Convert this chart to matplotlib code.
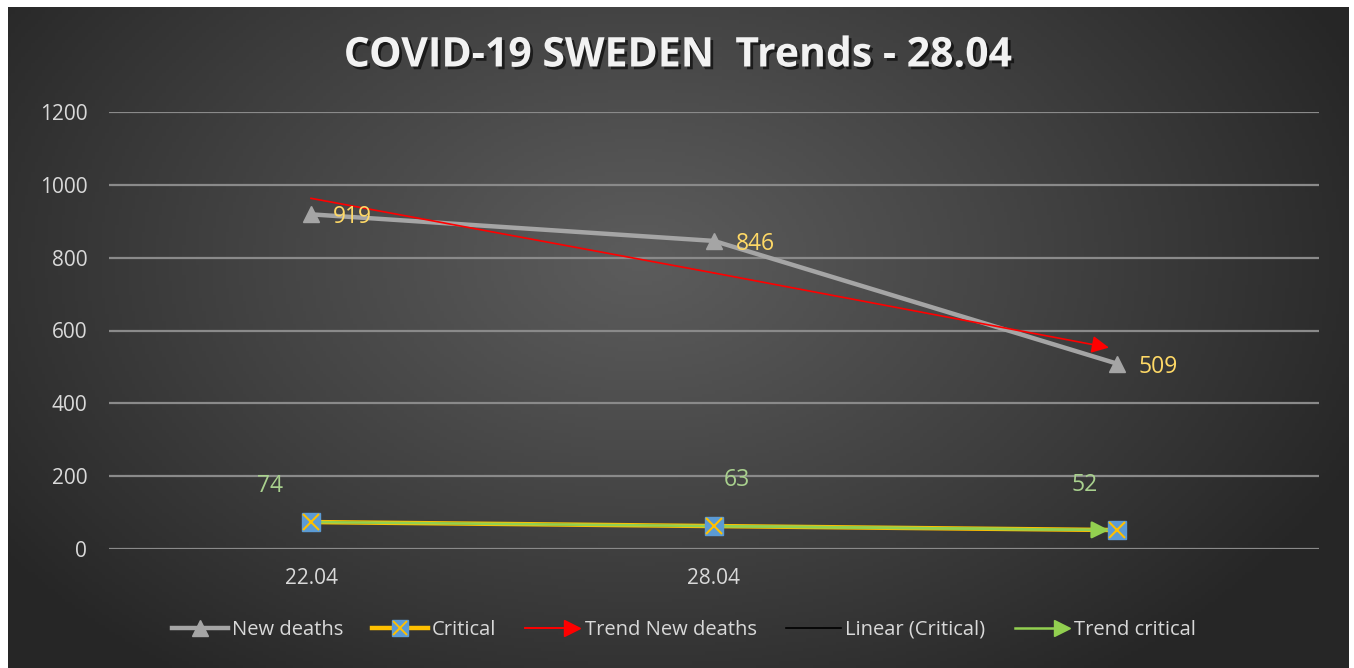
import numpy as np
import matplotlib
matplotlib.use("Agg")
import matplotlib.pyplot as plt
from matplotlib.lines import Line2D
from matplotlib.legend_handler import HandlerBase
import matplotlib.patheffects as pe

# ---- data ----
categories = ["22.04", "28.04", ""]
new_deaths = [919, 846, 509]
critical = [74, 63, 52]
trend_new_deaths = [963, 758, 553]
linear_critical = [74, 63, 52]
trend_critical = [74, 63, 52]
title = "COVID-19 SWEDEN  Trends - 28.04"
yticks = [0, 200, 400, 600, 800, 1000, 1200]

W, H = 1354, 668
fig = plt.figure(figsize=(W / 100, H / 100), dpi=100)
fig.patch.set_facecolor("white")
plt.rcParams['font.family'] = ['Open Sans', 'DejaVu Sans']

# ---- background (radial gradient) ----
bx0, by0, bx1, by1 = 8, 7, 1349, 668
bg = fig.add_axes([bx0 / W, 1 - by1 / H, (bx1 - bx0) / W, (by1 - by0) / H], zorder=0)
gx = np.linspace(bx0, bx1, 400)
gy = np.linspace(by0, by1, 200)
X, Y = np.meshgrid(gx, gy)
cx, cy = 640, 260
r = np.sqrt(((X - cx) / 780) ** 2 + ((Y - cy) / 520) ** 2)
r = np.clip(r, 0, 1)
c_in, c_out = 0.36, 0.15
val = c_in + (c_out - c_in) * r ** 1.1
img = np.dstack([val, val, val])
bg.imshow(img, aspect="auto", extent=[0, 1, 0, 1], origin="upper")
bg.set_axis_off()

# ---- main axes ----
left, right = 109.5, 1318.5
top, bottom = 112, 549
ax = fig.add_axes([left / W, 1 - bottom / H, (right - left) / W, (bottom - top) / H], zorder=1)
ax.set_facecolor("none")
x = np.arange(len(categories))
ax.set_xlim(-0.5, len(categories) - 0.5)
ax.set_ylim(0, 1200)
ax.set_yticks(yticks)
ax.set_xticks(x)
ax.set_xticklabels(categories)
for s in ax.spines.values():
    s.set_visible(False)
ax.tick_params(axis="both", length=0, labelsize=15, colors="#d9d9d9")
ax.tick_params(axis="y", pad=16)
ax.tick_params(axis="x", pad=14)
ax.yaxis.grid(True, color="#8a8a8a", lw=1.6, zorder=0)
ax.set_axisbelow(True)

# series
ax.plot(x, new_deaths, color="#a5a5a5", lw=3.2, marker="^", ms=11, zorder=4)
ax.plot(x, critical, color="#ffc000", lw=3.2, zorder=3)
ax.plot(x, linear_critical, color="black", lw=1, zorder=3)
ax.plot(x, trend_critical, color="#92d050", lw=1.8, zorder=3)
ax.annotate("", xy=(x[-1] - 0.02, trend_critical[-1]), xytext=(x[-2], trend_critical[-2]),
            arrowprops=dict(arrowstyle="-|>", color="#92d050", lw=1.8, mutation_scale=26,
                            shrinkA=0, shrinkB=0), zorder=4)
ax.plot(x, critical, ls="none", marker="s", ms=13, mfc="#5b9bd5", mec="#5b9bd5", zorder=5)
ax.plot(x, critical, ls="none", marker="x", ms=11, mec="#ffc000", mew=1.5, zorder=6)
ax.plot(x[:2], trend_new_deaths[:2], color="red", lw=1.2, zorder=5)
ax.annotate("", xy=(x[-1] - 0.02, trend_new_deaths[-1]), xytext=(x[-2], trend_new_deaths[-2]),
            arrowprops=dict(arrowstyle="-|>", color="red", lw=1.2, mutation_scale=26,
                            shrinkA=0, shrinkB=0), zorder=5)

# data labels
for xi, v in zip(x, new_deaths):
    ax.annotate(str(v), (xi, v), xytext=(22, -3), textcoords="offset pixels",
                color="#ffd966", fontsize=16.5, va="center", ha="left", zorder=7)
green_offsets = [(-41, 36), (23, 46), (-32, 45)]
for xi, v, off in zip(x, critical, green_offsets):
    ax.annotate(str(v), (xi, v), xytext=off, textcoords="offset pixels",
                color="#a9d18e", fontsize=16.5, va="center", ha="center", zorder=7)

# title
fig.text(678 / W, 1 - 56 / H, title, ha="center", va="center", fontsize=29.5,
         fontweight="bold", color="#f2f2f2",
         path_effects=[pe.withSimplePatchShadow(offset=(2, -2), shadow_rgbFace="black", alpha=0.6)])


# legend
class ArrowHandler(HandlerBase):
    def create_artists(self, legend, orig_handle, xdescent, ydescent, width, height, fontsize, trans):
        y = height / 2 - ydescent
        c = orig_handle.get_color()
        lw = orig_handle.get_linewidth()
        x0, x1 = -xdescent, width - xdescent
        line = Line2D([x0, x1 - 8], [y, y], color=c, lw=lw, transform=trans)
        head = Line2D([x1 - 6], [y], marker=">", ms=12, color=c, ls="none", transform=trans)
        return [line, head]


class CriticalHandler(HandlerBase):
    def create_artists(self, legend, orig_handle, xdescent, ydescent, width, height, fontsize, trans):
        y = height / 2 - ydescent
        x0, x1 = -xdescent, width - xdescent
        xm = (x0 + x1) / 2
        line = Line2D([x0, x1], [y, y], color="#ffc000", lw=3.2, transform=trans)
        sq = Line2D([xm], [y], marker="s", ms=12, mfc="#5b9bd5", mec="#5b9bd5", ls="none", transform=trans)
        xx = Line2D([xm], [y], marker="x", ms=10, mec="#ffc000", mew=1.4, ls="none", transform=trans)
        return [line, sq, xx]


h_nd = Line2D([], [], color="#a5a5a5", lw=3.2, marker="^", ms=11)
h_cr = Line2D([], [], color="#ffc000", lw=3.2)
h_tnd = Line2D([], [], color="red", lw=1.4)
h_lin = Line2D([], [], color="black", lw=1.2)
h_tc = Line2D([], [], color="#92d050", lw=1.8)
leg = fig.legend([h_nd, h_cr, h_tnd, h_lin, h_tc],
                 ["New deaths", "Critical", "Trend New deaths", "Linear (Critical)", "Trend critical"],
                 handler_map={h_cr: CriticalHandler(), h_tnd: ArrowHandler(), h_tc: ArrowHandler()},
                 loc="center", bbox_to_anchor=(684 / W, 1 - 630 / H), ncol=5, frameon=False,
                 fontsize=14.5, labelcolor="#d9d9d9", handlelength=2.75, handletextpad=0.2,
                 columnspacing=1.45)

fig.savefig("out.png", dpi=100, facecolor=fig.get_facecolor())
